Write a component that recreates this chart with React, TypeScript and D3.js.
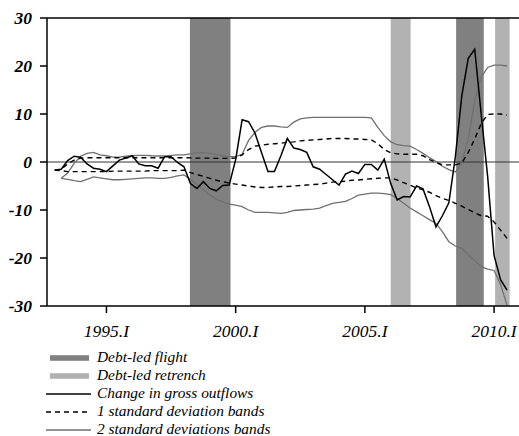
import React from "react";
import * as d3 from "d3";

const START_YEAR = 1993; // first quarter: 1993.I

const outflows = [
  -1.7, -1.5, 0.3, 1.2, 1.0, -0.4, -1.3, -1.5, -2.0, -0.8,
  0.4, 0.8, 1.3, -0.4, -0.8, -0.8, -1.3, 1.1, 1.1, -0.1,
  -1.0, -4.5, -5.5, -4.1, -5.5, -6.0, -4.9, -4.8, 0.5, 8.8,
  8.4, 6.0, 2.0, -2.0, -2.0, 1.3, 4.9, 2.9, 2.6, 2.0,
  -1.0, -1.5, -2.6, -3.7, -4.8, -2.5, -1.9, -2.4, -0.5, -0.5,
  -1.7, 0.6, -4.5, -7.9, -7.2, -7.3, -5.0, -5.6, -9.3, -13.5,
  -11.2, -8.5, 1.0, 13.8, 21.6, 23.5, 10.0, -3.0, -19.5, -24.5,
  -26.7,
];

const sd1Upper = [
  -1.7, -1.5, -0.4, 0.4, 0.8, 0.9, 0.9, 0.9, 0.9, 0.9,
  0.9, 0.9, 0.9, 0.9, 0.9, 0.9, 0.9, 0.9, 0.9, 0.9,
  0.9, 0.85, 0.8, 0.8, 0.8, 0.75, 0.75, 0.75, 0.8, 1.5,
  2.6, 3.3, 3.5, 3.7, 3.8, 3.9, 4.1, 4.2, 4.4, 4.5,
  4.6, 4.7, 4.8, 4.9, 4.9, 4.9, 4.8, 4.8, 4.7, 4.6,
  3.8, 2.6, 1.9, 1.7, 1.6, 1.6, 1.6, 1.3, 0.5, -0.1,
  -0.6, -0.6, -0.6, -0.2, 2.0, 4.8, 8.0, 9.9, 10.0, 10.0,
  9.8,
];

const sd1Lower = [
  -1.7, -1.8, -2.0, -2.0, -2.0, -2.0, -2.0, -2.0, -2.0, -1.9,
  -1.9, -1.9, -1.9, -1.9, -1.9, -1.8, -1.8, -1.8, -1.8, -1.8,
  -1.7, -2.2, -2.6, -3.0, -3.4, -3.8, -4.1, -4.4, -4.6, -4.8,
  -5.0, -5.2, -5.3, -5.3, -5.2, -5.1, -5.1, -5.0, -4.9, -4.8,
  -4.7, -4.6, -4.4, -4.2, -4.1, -4.0, -3.8, -3.75, -3.6, -3.5,
  -3.4, -3.3, -3.3, -3.75, -4.3, -4.8, -5.4, -5.8, -6.3, -7.0,
  -7.6, -8.0, -8.6, -9.2, -9.9, -10.6, -11.2, -11.3, -12.5, -14.2,
  -15.9,
];

// 2 standard deviation bands start one quarter later (1993.II)
const sd2Upper = [
  null, -3.4, -2.3, -0.3, 1.2, 1.8, 2.0, 1.5, 1.3, 1.0,
  1.0, 1.2, 1.3, 1.4, 1.4, 1.3, 1.25, 1.25, 1.4, 1.5,
  1.5, 1.7, 1.9, 2.0, 1.8, 1.5, 1.3, 1.1, 1.1, 1.6,
  4.5, 6.2, 7.2, 7.5, 7.5, 7.3, 7.2, 8.3, 9.0, 9.2,
  9.3, 9.3, 9.3, 9.3, 9.3, 9.3, 9.3, 9.3, 9.3, 9.2,
  7.2, 5.5, 4.2, 3.6, 3.4, 3.3, 2.6, 1.8, 0.9, 0.1,
  -0.9, -1.6, -2.1, -0.3, 4.8, 12.8, 17.6, 19.7, 20.2, 20.2,
  20.0,
];

const sd2Lower = [
  null, -3.4, -3.6, -3.9, -4.1, -3.6, -3.1, -3.3, -3.5, -3.7,
  -3.7, -3.6, -3.5, -3.4, -3.3, -3.3, -3.4, -3.4, -3.2, -2.9,
  -2.7, -3.6, -4.6, -5.8, -6.8, -7.8, -8.3, -8.8, -9.0, -9.3,
  -10.0, -10.5, -10.5, -10.5, -10.6, -10.7, -10.5, -10.1, -10.0, -9.9,
  -9.8, -9.6, -9.1, -8.6, -8.4, -8.2, -7.6, -6.9, -6.7, -6.5,
  -6.5, -6.6, -6.8, -7.6, -8.6, -9.6, -10.4, -11.2, -12.0, -12.8,
  -14.5, -16.6, -17.5, -18.0, -19.4, -20.5, -21.8, -22.3, -22.6, -25.5,
  -29.8,
];

const flightPeriods: [number, number][] = [
  [1998.23, 1999.8],
  [2008.53, 2009.6],
];
const retrenchPeriods: [number, number][] = [
  [2006.0, 2006.77],
  [2010.04, 2010.6],
];

const xTickYears = [1995, 2000, 2005, 2010];
const xTickLabels = ["1995.I", "2000.I", "2005.I", "2010.I"];
const yTicks = [-30, -20, -10, 0, 10, 20, 30];

const legendItems = [
  { label: "Debt-led flight", kind: "bar", color: "#808080" },
  { label: "Debt-led retrench", kind: "bar", color: "#b2b2b2" },
  { label: "Change in gross outflows", kind: "line", color: "#000" },
  { label: "1 standard deviation bands", kind: "dash", color: "#000" },
  { label: "2 standard deviations bands", kind: "line", color: "#707070" },
];

const W = 519;
const H = 436;
const LEFT = 47;
const RIGHT = 518;
const TOP = 18;
const BOTTOM = 306;

const FONT = "'Liberation Serif', 'Times New Roman', serif";

export default function App() {
  const x = d3.scaleLinear().domain([1992.7, 2010.925]).range([LEFT, RIGHT]);
  const y = d3.scaleLinear().domain([-30, 30]).range([BOTTOM, TOP]);
  const dateOf = (i: number) => START_YEAR + i * 0.25;

  const line = d3
    .line<number | null>()
    .defined((d) => d !== null)
    .x((_, i) => x(dateOf(i)))
    .y((d) => y(d as number));

  const bar = (p: [number, number], color: string, k: string) => (
    <rect
      key={k}
      x={x(p[0])}
      y={TOP}
      width={x(p[1]) - x(p[0])}
      height={BOTTOM - TOP}
      fill={color}
    />
  );

  return (
    <svg
      width={W}
      height={H}
      style={{ position: "absolute", left: 0, top: 0, background: "#fff" }}
    >
      {flightPeriods.map((p, i) => bar(p, "#808080", "f" + i))}
      {retrenchPeriods.map((p, i) => bar(p, "#b2b2b2", "r" + i))}

      <line x1={LEFT} x2={W} y1={y(0)} y2={y(0)} stroke="#333" strokeWidth={1} />

      <path d={line(sd2Upper) || ""} fill="none" stroke="#707070" strokeWidth={1.3} />
      <path d={line(sd2Lower) || ""} fill="none" stroke="#707070" strokeWidth={1.3} />
      <path
        d={line(sd1Upper) || ""}
        fill="none"
        stroke="#000"
        strokeWidth={1.4}
        strokeDasharray="5,4"
      />
      <path
        d={line(sd1Lower) || ""}
        fill="none"
        stroke="#000"
        strokeWidth={1.4}
        strokeDasharray="5,4"
      />
      <path d={line(outflows) || ""} fill="none" stroke="#000" strokeWidth={1.5} />

      {/* frame */}
      <line x1={LEFT} x2={LEFT} y1={TOP} y2={BOTTOM} stroke="#000" strokeWidth={1.5} />
      <line x1={LEFT} x2={W} y1={TOP} y2={TOP} stroke="#000" strokeWidth={1.5} />
      <line x1={LEFT} x2={W} y1={BOTTOM} y2={BOTTOM} stroke="#000" strokeWidth={1.5} />

      {yTicks.map((t) => (
        <g key={"y" + t}>
          <line x1={LEFT - 7} x2={LEFT} y1={y(t)} y2={y(t)} stroke="#000" strokeWidth={1.5} />
          <text
            x={32}
            y={y(t)}
            dy="0.35em"
            textAnchor="end"
            fontFamily={FONT}
            fontStyle="italic"
            fontWeight="bold"
            fontSize={17.5}
            fill="#000"
          >
            {t}
          </text>
        </g>
      ))}

      {xTickYears.map((t, i) => (
        <g key={"x" + t}>
          <line x1={x(t)} x2={x(t)} y1={BOTTOM} y2={BOTTOM + 7} stroke="#000" strokeWidth={1.5} />
          <text
            x={x(t)}
            y={337}
            textAnchor="middle"
            fontFamily={FONT}
            fontStyle="italic"
            fontSize={17.5}
            fill="#000"
          >
            {xTickLabels[i]}
          </text>
        </g>
      ))}

      {legendItems.map((it, i) => {
        const cy = 358 + i * 18;
        return (
          <g key={"l" + i}>
            {it.kind === "bar" ? (
              <rect x={50} y={cy - 2.8} width={39} height={5.6} fill={it.color} />
            ) : (
              <line
                x1={46}
                x2={91}
                y1={cy}
                y2={cy}
                stroke={it.color}
                strokeWidth={it.kind === "dash" ? 1.4 : 1.5}
                strokeDasharray={it.kind === "dash" ? "5,4" : undefined}
              />
            )}
            <text
              x={97}
              y={cy + 4}
              fontFamily={FONT}
              fontStyle="italic"
              fontSize={15.4}
              fill="#000"
            >
              {it.label}
            </text>
          </g>
        );
      })}
    </svg>
  );
}
